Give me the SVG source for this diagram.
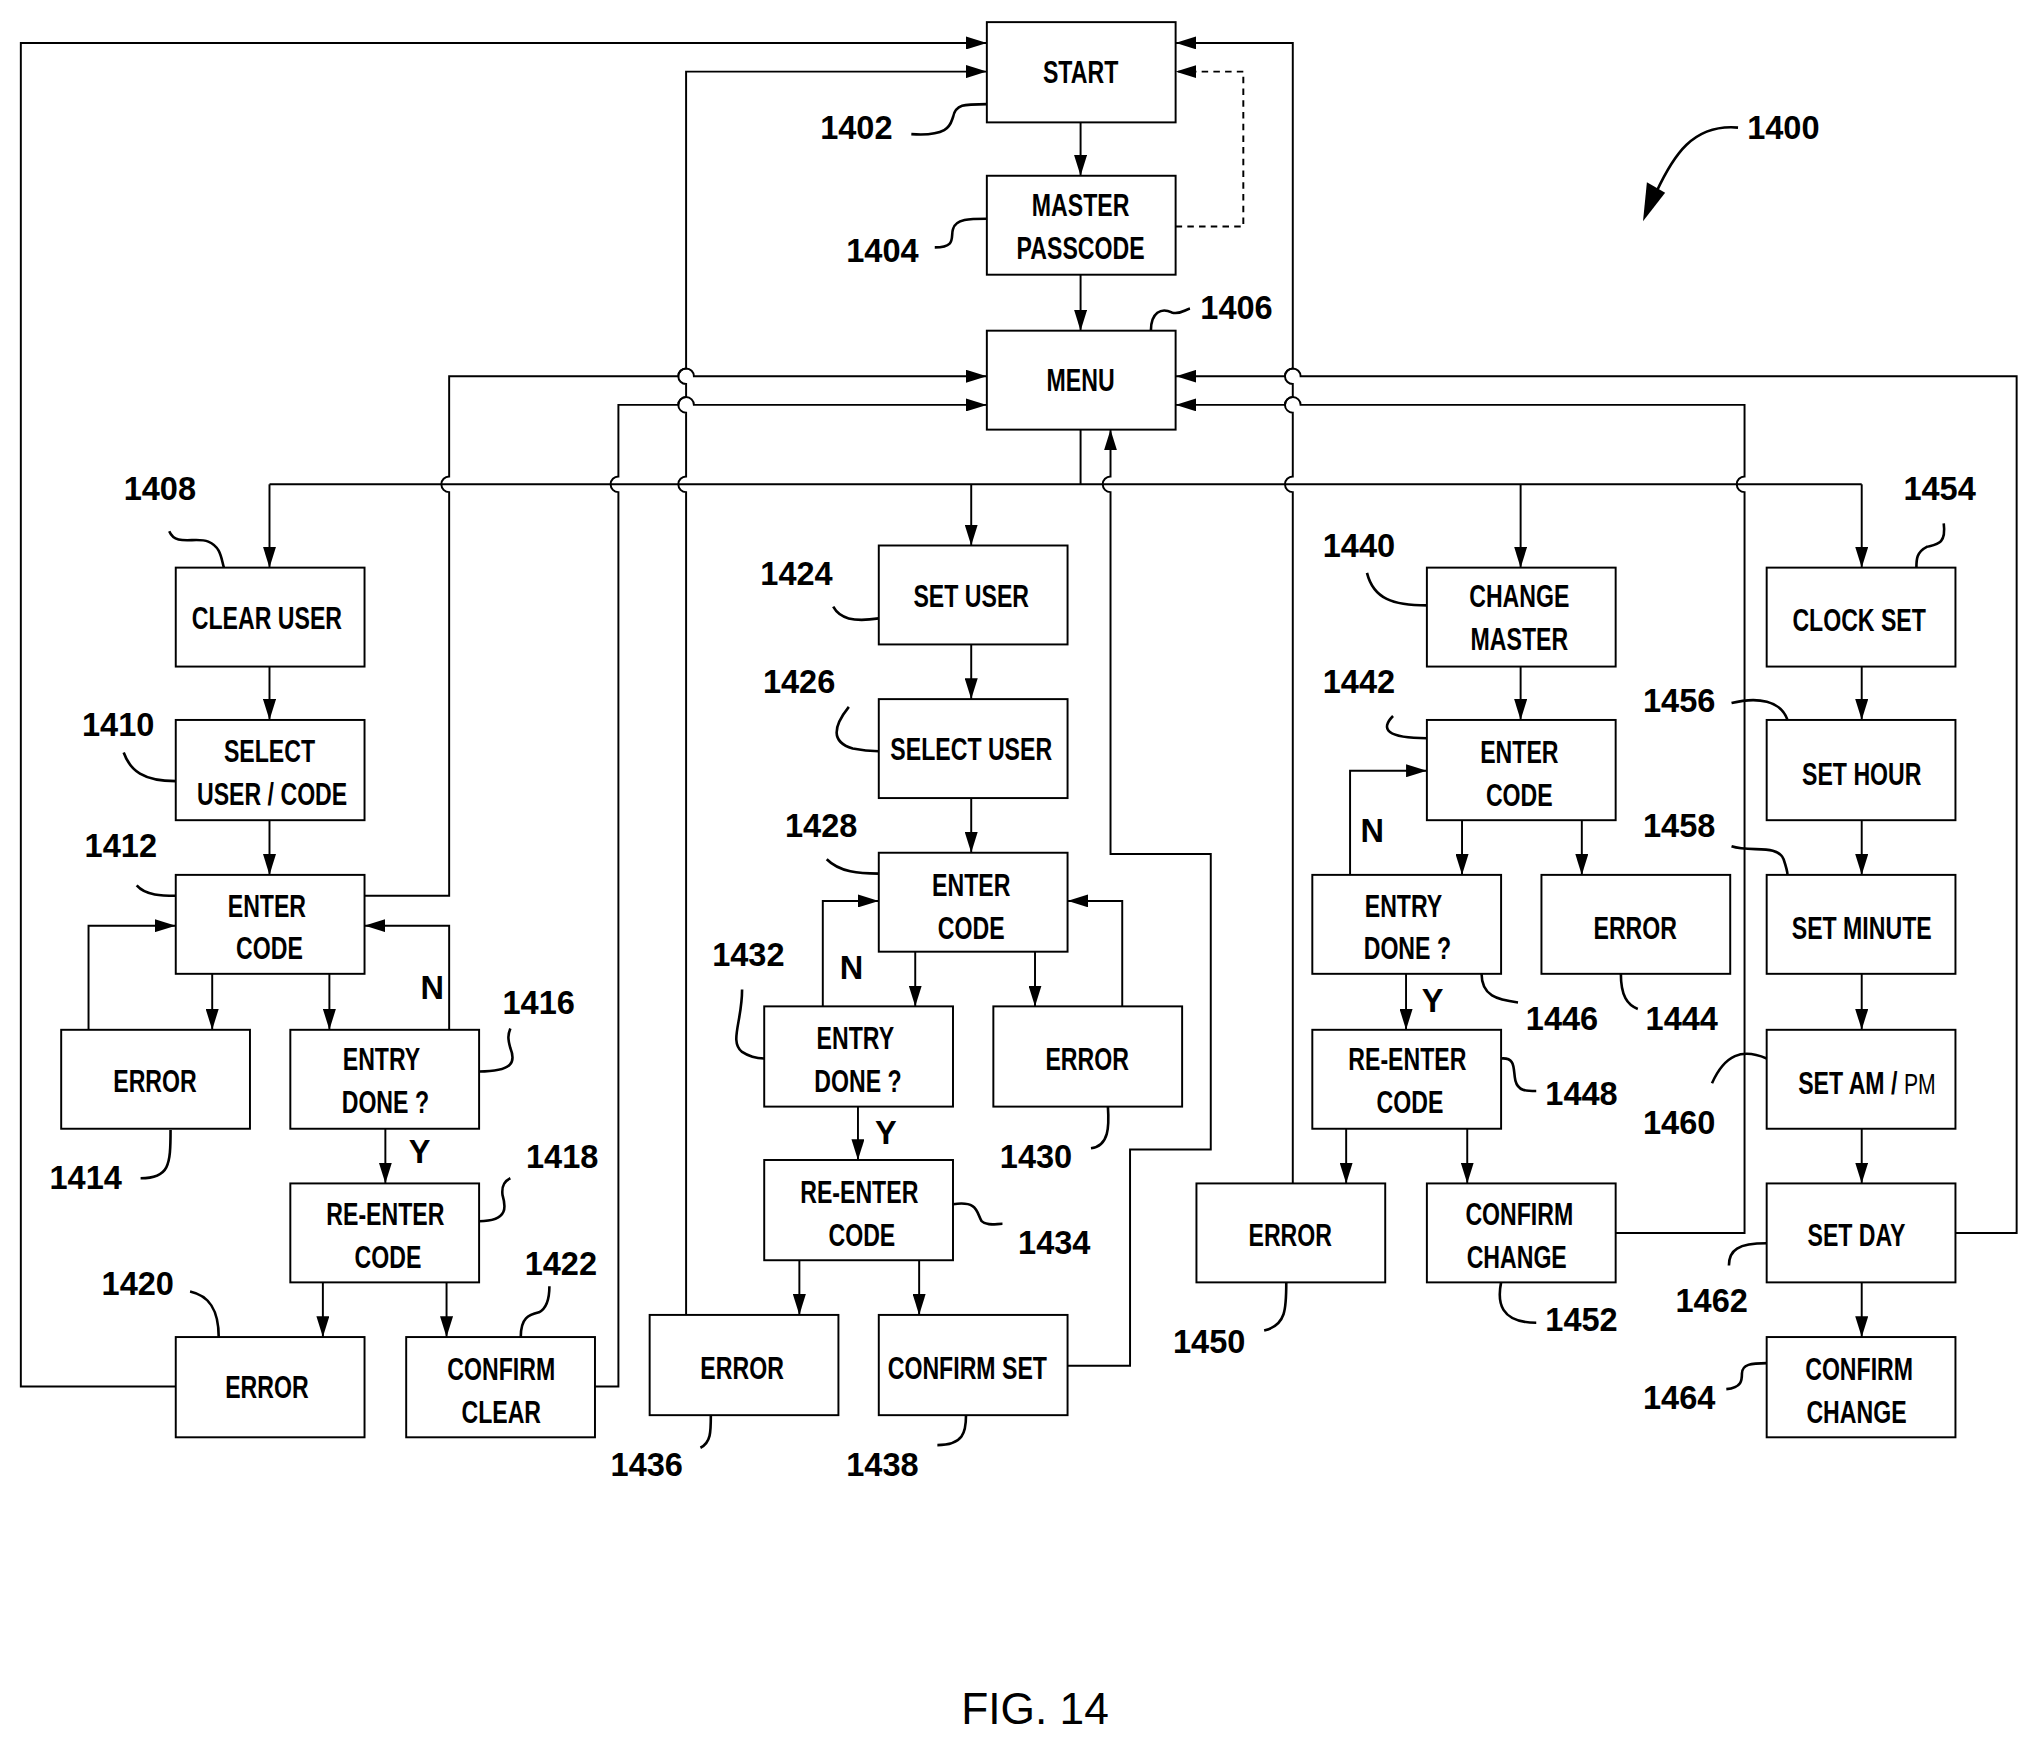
<svg xmlns="http://www.w3.org/2000/svg" width="2031" height="1738" viewBox="0 0 2031 1738">
<defs>
<marker id="a" markerUnits="userSpaceOnUse" markerWidth="16" markerHeight="10" refX="16" refY="5" orient="auto"><path d="M0,0 L16,5 L0,10 z" fill="#000"/></marker>
<style>
.b rect{fill:#fff;stroke:#000;stroke-width:1.5}
.b text{font-family:"Liberation Sans",Arial,sans-serif;font-weight:bold;font-size:24px;text-anchor:middle;fill:#000;transform-box:fill-box;transform-origin:center;transform:scaleX(0.74)}
.c path{fill:none;stroke:#000;stroke-width:1.5}
.c .ar{marker-end:url(#a)}
.l text{font-family:"Liberation Sans",Arial,sans-serif;font-weight:bold;font-size:25px;fill:#000}
.l path{fill:none;stroke:#000;stroke-width:2}
</style>
</defs>
<rect width="2031" height="1738" fill="#fff"/>
<g transform="scale(1.3019)">
<g class="c" id="connectors">
<path class="ar" d="M830,94 V135"/>
<path class="ar" d="M830,211 V254"/>
<path class="ar" d="M903,174 H955 V55 H903" stroke-dasharray="5,4"/>
<path class="ar" d="M135,1065 H16 V33 H758"/>
<path class="ar" d="M527,1010 V378 A6 6 0 0 1 527 366 V317 A6 6 0 0 1 527 305 V295 A6 6 0 0 1 527 283 V55 H758"/>
<path class="ar" d="M993,909 V378 A6 6 0 0 1 993 366 V317 A6 6 0 0 1 993 305 V295 A6 6 0 0 1 993 283 V33 H903"/>
<path d="M830,330 V372 M207,372 H1430"/>
<path class="ar" d="M207,372 V436"/>
<path class="ar" d="M746,372 V419"/>
<path class="ar" d="M1168,372 V436"/>
<path class="ar" d="M1430,372 V436"/>
<path class="ar" d="M280,688 H345 V378 A6 6 0 0 1 345 366 V289 H521 A6 6 0 0 1 533 289 H758"/>
<path class="ar" d="M457,1065 H475 V378 A6 6 0 0 1 475 366 V311 H521 A6 6 0 0 1 533 311 H758"/>
<path class="ar" d="M820,1049 H868 V883 H930 V656 H853 V378 A6 6 0 0 1 853 366 V330"/>
<path class="ar" d="M1241,947 H1340 V378 A6 6 0 0 1 1340 366 V311 H999 A6 6 0 0 0 987 311 H903"/>
<path class="ar" d="M1502,947 H1549 V289 H999 A6 6 0 0 0 987 289 H903"/>
<path class="ar" d="M207,512 V553"/>
<path class="ar" d="M207,630 V672"/>
<path class="ar" d="M163,748 V791"/>
<path class="ar" d="M253,748 V791"/>
<path class="ar" d="M68,791 V711 H135"/>
<path class="ar" d="M345,791 V711 H280"/>
<path class="ar" d="M296,867 V909"/>
<path class="ar" d="M248,985 V1027"/>
<path class="ar" d="M343,985 V1027"/>
<path class="ar" d="M746,495 V537"/>
<path class="ar" d="M746,613 V655"/>
<path class="ar" d="M703,731 V773"/>
<path class="ar" d="M795,731 V773"/>
<path class="ar" d="M632,773 V692 H675"/>
<path class="ar" d="M862,773 V692 H820"/>
<path class="ar" d="M659,850 V891"/>
<path class="ar" d="M614,968 V1010"/>
<path class="ar" d="M706,968 V1010"/>
<path class="ar" d="M1168,512 V553"/>
<path class="ar" d="M1123,630 V672"/>
<path class="ar" d="M1215,630 V672"/>
<path class="ar" d="M1037,672 V592 H1096"/>
<path class="ar" d="M1080,748 V791"/>
<path class="ar" d="M1034,867 V909"/>
<path class="ar" d="M1127,867 V909"/>
<path class="ar" d="M1430,512 V553"/>
<path class="ar" d="M1430,630 V672"/>
<path class="ar" d="M1430,748 V791"/>
<path class="ar" d="M1430,867 V909"/>
<path class="ar" d="M1430,985 V1027"/>
</g>
<g class="b">
<g id="n1402"><rect x="758" y="17" width="145" height="77"/><text x="830" y="64">START</text></g>
<g id="n1404"><rect x="758" y="135" width="145" height="76"/><text x="830" y="166">MASTER</text><text x="830" y="199">PASSCODE</text></g>
<g id="n1406"><rect x="758" y="254" width="145" height="76"/><text x="830" y="300">MENU</text></g>
<g id="n1408"><rect x="135" y="436" width="145" height="76"/><text x="205" y="483">CLEAR USER</text></g>
<g id="n1410"><rect x="135" y="553" width="145" height="77"/><text x="207" y="585">SELECT</text><text x="209" y="618">USER / CODE</text></g>
<g id="n1412"><rect x="135" y="672" width="145" height="76"/><text x="205" y="704">ENTER</text><text x="207" y="737">CODE</text></g>
<g id="n1414"><rect x="47" y="791" width="145" height="76"/><text x="119" y="839">ERROR</text></g>
<g id="n1416"><rect x="223" y="791" width="145" height="76"/><text x="293" y="822">ENTRY</text><text x="296" y="855">DONE ?</text></g>
<g id="n1418"><rect x="223" y="909" width="145" height="76"/><text x="296" y="941">RE-ENTER</text><text x="298" y="974">CODE</text></g>
<g id="n1420"><rect x="135" y="1027" width="145" height="77"/><text x="205" y="1074">ERROR</text></g>
<g id="n1422"><rect x="312" y="1027" width="145" height="77"/><text x="385" y="1060">CONFIRM</text><text x="385" y="1093">CLEAR</text></g>
<g id="n1424"><rect x="675" y="419" width="145" height="76"/><text x="746" y="466">SET USER</text></g>
<g id="n1426"><rect x="675" y="537" width="145" height="76"/><text x="746" y="584">SELECT USER</text></g>
<g id="n1428"><rect x="675" y="655" width="145" height="76"/><text x="746" y="688">ENTER</text><text x="746" y="721">CODE</text></g>
<g id="n1432"><rect x="587" y="773" width="145" height="77"/><text x="657" y="806">ENTRY</text><text x="659" y="839">DONE ?</text></g>
<g id="n1430"><rect x="763" y="773" width="145" height="77"/><text x="835" y="822">ERROR</text></g>
<g id="n1434"><rect x="587" y="891" width="145" height="77"/><text x="660" y="924">RE-ENTER</text><text x="662" y="957">CODE</text></g>
<g id="n1436"><rect x="499" y="1010" width="145" height="77"/><text x="570" y="1059">ERROR</text></g>
<g id="n1438"><rect x="675" y="1010" width="145" height="77"/><text x="743" y="1059">CONFIRM SET</text></g>
<g id="n1440"><rect x="1096" y="436" width="145" height="76"/><text x="1167" y="466">CHANGE</text><text x="1167" y="499">MASTER</text></g>
<g id="n1442"><rect x="1096" y="553" width="145" height="77"/><text x="1167" y="586">ENTER</text><text x="1167" y="619">CODE</text></g>
<g id="n1446"><rect x="1008" y="672" width="145" height="76"/><text x="1078" y="704">ENTRY</text><text x="1081" y="737">DONE ?</text></g>
<g id="n1444"><rect x="1184" y="672" width="145" height="76"/><text x="1256" y="721">ERROR</text></g>
<g id="n1448"><rect x="1008" y="791" width="145" height="76"/><text x="1081" y="822">RE-ENTER</text><text x="1083" y="855">CODE</text></g>
<g id="n1450"><rect x="919" y="909" width="145" height="76"/><text x="991" y="957">ERROR</text></g>
<g id="n1452"><rect x="1096" y="909" width="145" height="76"/><text x="1167" y="941">CONFIRM</text><text x="1165" y="974">CHANGE</text></g>
<g id="n1454"><rect x="1357" y="436" width="145" height="76"/><text x="1428" y="485">CLOCK SET</text></g>
<g id="n1456"><rect x="1357" y="553" width="145" height="77"/><text x="1430" y="603">SET HOUR</text></g>
<g id="n1458"><rect x="1357" y="672" width="145" height="76"/><text x="1430" y="721">SET MINUTE</text></g>
<g id="n1460"><rect x="1357" y="791" width="145" height="76"/><text x="1434" y="840">SET AM / <tspan style="font-weight:normal" font-size="22">PM</tspan></text></g>
<g id="n1462"><rect x="1357" y="909" width="145" height="76"/><text x="1426" y="957">SET DAY</text></g>
<g id="n1464"><rect x="1357" y="1027" width="145" height="77"/><text x="1428" y="1060">CONFIRM</text><text x="1426" y="1093">CHANGE</text></g>
</g>
<g class="l" id="labels">
<text x="630" y="107">1402</text><path d="M700,103 C730,105 730,95 732,90 C734,80 740,80 758,80"/>
<text x="650" y="201">1404</text><path d="M718,190 C735,190 730,182 732,176 C734,168 745,168 758,168"/>
<text x="922" y="245">1406</text><path d="M884,254 C884,240 892,236 900,240 C906,242 910,238 914,237"/>
<text x="1342" y="107">1400</text><path d="M1335,98 C1300,95 1285,120 1272,148"/><path d="M1262,170 L1265,140 L1279,148 z" style="fill:#000;stroke:none"/>
<text x="95" y="384">1408</text><path d="M130,408 C135,420 150,412 160,416 C170,420 170,430 172,436"/>
<text x="63" y="565">1410</text><path d="M95,578 C100,592 110,600 135,600"/>
<text x="65" y="658">1412</text><path d="M105,680 C112,688 125,688 135,688"/>
<text x="38" y="913">1414</text><path d="M108,905 C130,905 131,895 131,868"/>
<text x="386" y="779">1416</text><path d="M368,823 C395,823 396,815 392,805 C390,798 390,795 392,790"/>
<text x="404" y="897">1418</text><path d="M368,938 C392,938 388,925 386,918 C385,910 388,907 392,905"/>
<text x="78" y="995">1420</text><path d="M146,992 C160,995 168,1005 168,1027"/>
<text x="403" y="979">1422</text><path d="M400,1027 C400,1012 406,1010 414,1008 C420,1005 422,998 422,988"/>
<text x="584" y="449">1424</text><path d="M640,466 C645,475 655,478 675,475"/>
<text x="586" y="532">1426</text><path d="M652,543 C640,558 638,570 655,575 C665,577 670,577 675,577"/>
<text x="603" y="643">1428</text><path d="M635,660 C645,670 660,671 675,671"/>
<text x="547" y="742">1432</text><path d="M570,760 C570,785 560,800 570,808 C576,812 582,813 587,813"/>
<text x="768" y="897">1430</text><path d="M838,882 C852,880 852,865 851,850"/>
<text x="782" y="963">1434</text><path d="M732,925 C752,922 750,932 754,938 C758,942 765,940 770,940"/>
<text x="469" y="1134">1436</text><path d="M538,1112 C546,1108 546,1100 546,1087"/>
<text x="650" y="1134">1438</text><path d="M720,1110 C740,1110 742,1100 742,1087"/>
<text x="1016" y="428">1440</text><path d="M1050,440 C1055,460 1070,465 1096,465"/>
<text x="1016" y="532">1442</text><path d="M1070,550 C1060,560 1065,567 1096,567"/>
<text x="1172" y="791">1446</text><path d="M1138,748 C1138,765 1150,768 1166,770"/>
<text x="1264" y="791">1444</text><path d="M1245,748 C1245,765 1250,772 1258,775"/>
<text x="1187" y="849">1448</text><path d="M1153,813 C1165,812 1162,822 1164,830 C1166,838 1172,838 1180,838"/>
<text x="901" y="1039">1450</text><path d="M971,1022 C988,1018 988,1005 988,985"/>
<text x="1187" y="1022">1452</text><path d="M1153,985 C1150,1000 1152,1016 1180,1016"/>
<text x="1462" y="384">1454</text><path d="M1493,402 C1495,418 1488,418 1480,420 C1472,424 1472,430 1472,436"/>
<text x="1262" y="547">1456</text><path d="M1330,540 C1350,535 1368,538 1373,553"/>
<text x="1262" y="643">1458</text><path d="M1330,650 C1345,655 1365,648 1370,660 C1372,666 1373,670 1373,672"/>
<text x="1262" y="871">1460</text><path d="M1315,832 C1325,810 1338,805 1357,813"/>
<text x="1287" y="1008">1462</text><path d="M1328,972 C1328,960 1335,955 1357,955"/>
<text x="1262" y="1082">1464</text><path d="M1326,1067 C1338,1066 1338,1060 1338,1055 C1338,1048 1345,1047 1357,1047"/>
<text x="323" y="767">N</text><text x="314" y="893">Y</text>
<text x="645" y="752">N</text><text x="672" y="879">Y</text>
<text x="1045" y="647">N</text><text x="1092" y="777">Y</text>
<text x="795" y="1324" style="font-weight:normal;font-size:34px;text-anchor:middle">FIG. 14</text>
</g>
</g>
</svg>
